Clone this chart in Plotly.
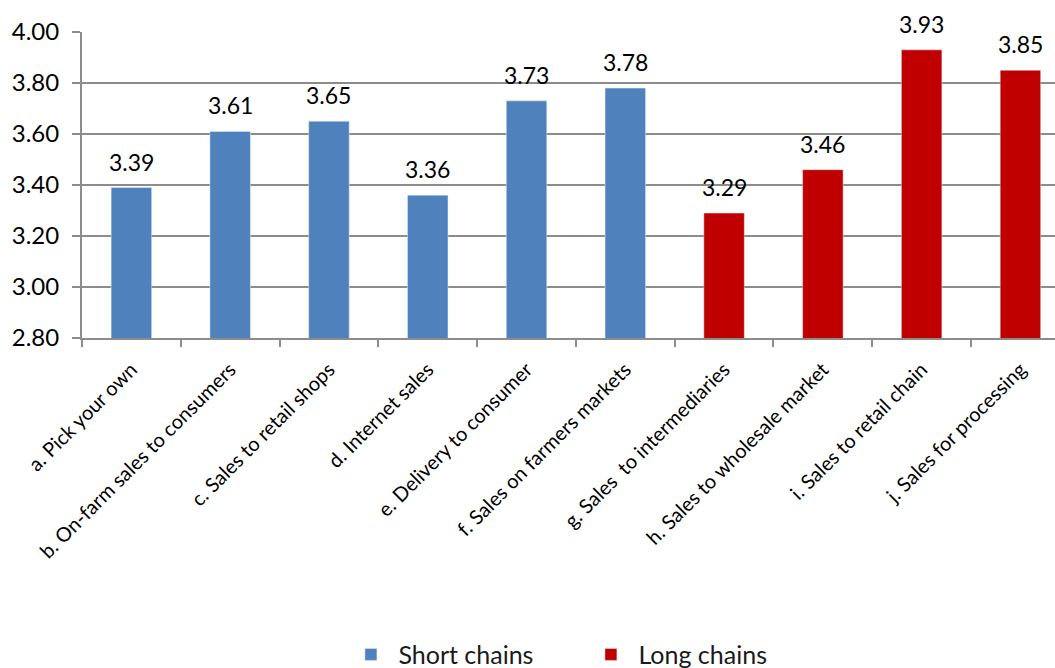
import plotly.graph_objects as go

categories = [
    "a. Pick your own",
    "b. On-farm sales to consumers",
    "c. Sales to retail shops",
    "d. Internet sales",
    "e. Delivery to consumer",
    "f. Sales on farmers markets",
    "g. Sales  to intermediaries",
    "h. Sales to wholesale market",
    "i. Sales to retail chain",
    "j. Sales for processing",
]
short_values = [3.39, 3.61, 3.65, 3.36, 3.73, 3.78]
long_values = [3.29, 3.46, 3.93, 3.85]

short_cats = categories[:6]
long_cats = categories[6:]

FONT = "Lato, 'Open Sans', sans-serif"
BLUE = "#4F81BD"
RED = "#C00000"
GRID = "#8C8C8C"

fig = go.Figure()
fig.add_trace(go.Bar(x=short_cats, y=short_values, name="Short chains",
                     marker=dict(color=BLUE), width=0.41))
fig.add_trace(go.Bar(x=long_cats, y=long_values, name="Long chains",
                     marker=dict(color=RED), width=0.41))

# value labels above each bar
for cat, val in zip(categories, short_values + long_values):
    fig.add_annotation(x=cat, y=val, text=f"{val:.2f}", showarrow=False,
                       yanchor="bottom", yshift=10,
                       font=dict(family=FONT, size=23, color="#000000"))

fig.update_layout(
    width=1055, height=668,
    margin=dict(l=82, r=0, t=32, b=330, autoexpand=False),
    paper_bgcolor="white", plot_bgcolor="white",
    barmode="overlay",
    font=dict(family=FONT, color="#000000"),
    showlegend=True,
    legend=dict(orientation="h", x=0.553, xanchor="center", xref="container",
                y=0.02, yanchor="middle", yref="container",
                font=dict(family=FONT, size=25, color="#1a1a1a"),
                entrywidth=180, itemwidth=45, tracegroupgap=0),
)
fig.update_xaxes(
    type="category", categoryorder="array", categoryarray=categories,
    range=[-0.5, 9.35], tickson="boundaries", automargin=False,
    ticks="outside", ticklen=7, tickcolor=GRID, tickwidth=2,
    showline=True, linecolor=GRID, linewidth=2,
    tickangle=-45, ticklabelstandoff=10,
    tickfont=dict(family=FONT, size=20, color="#000000"),
    showgrid=False,
)
fig.update_yaxes(
    range=[2.8, 4.0], dtick=0.2, tick0=2.8, tickformat=".2f", automargin=False,
    ticks="outside", ticklen=8, tickcolor=GRID, tickwidth=2,
    showline=True, linecolor=GRID, linewidth=2,
    showgrid=True, gridcolor=GRID, gridwidth=2,
    ticklabelstandoff=8,
    tickfont=dict(family=FONT, size=24, color="#000000"),
    zeroline=False,
)

fig.write_html("out.html")
